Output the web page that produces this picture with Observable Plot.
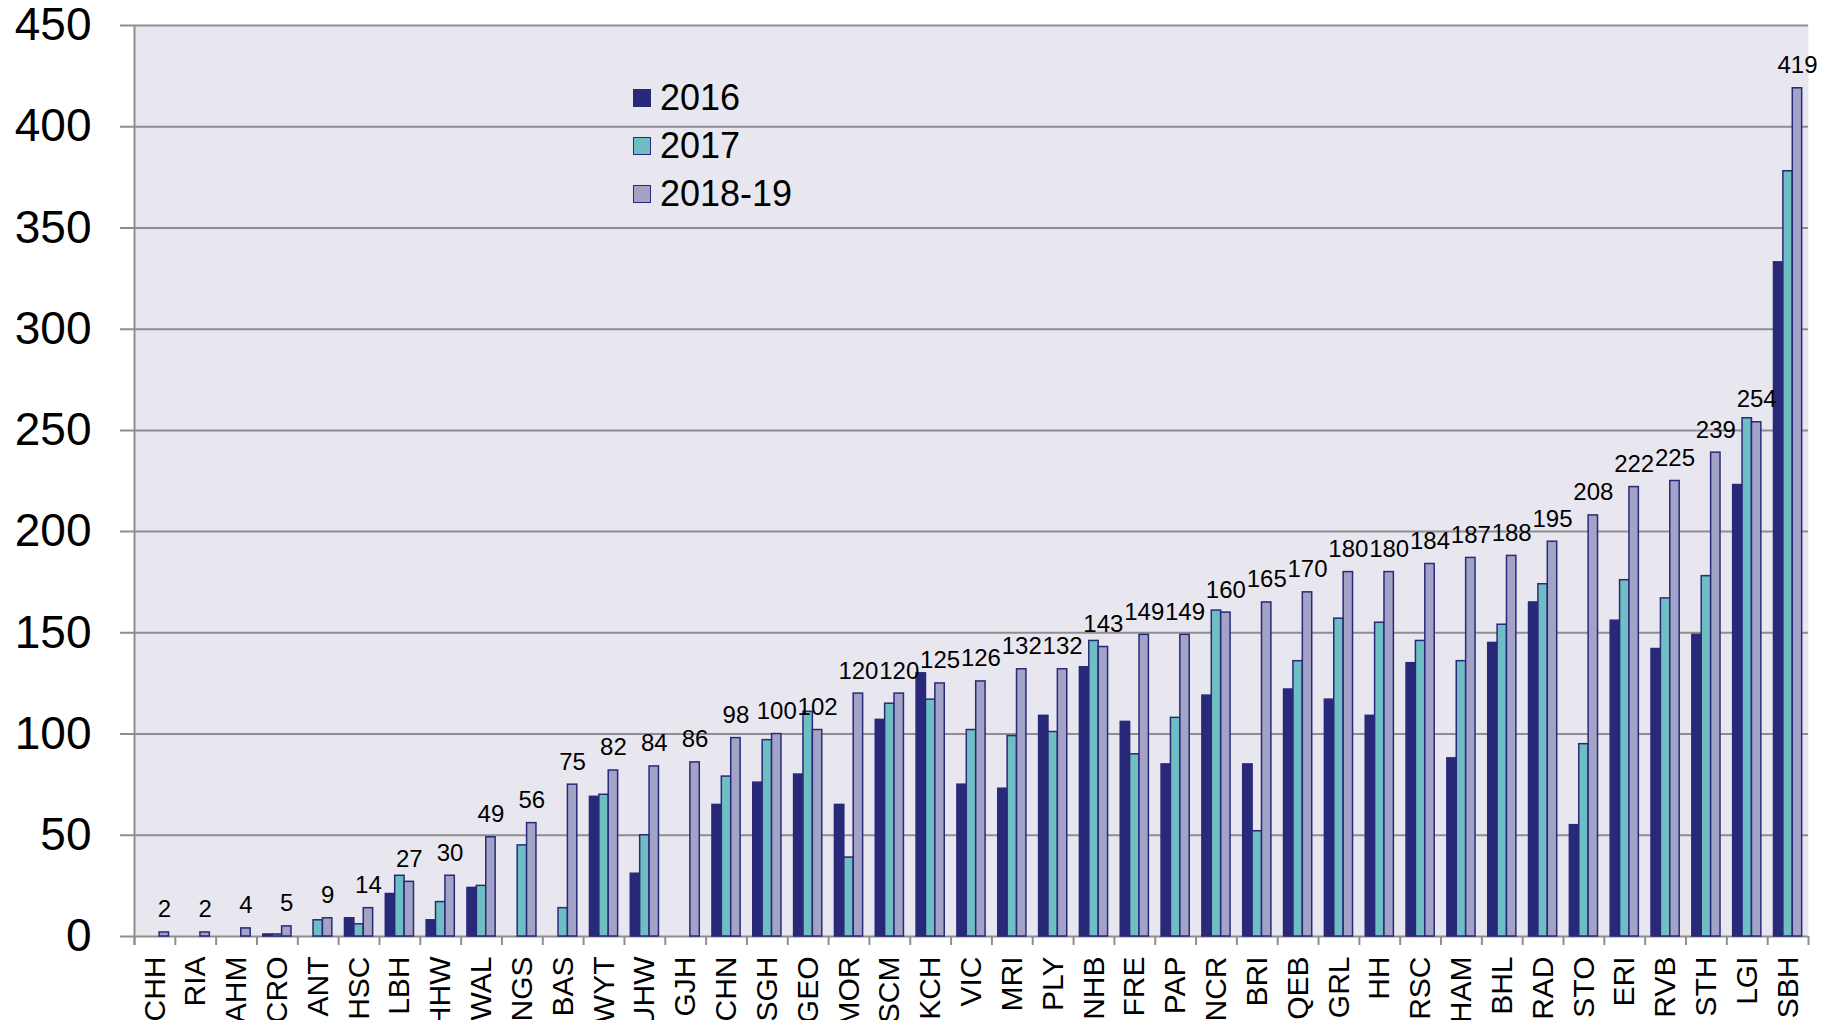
<!DOCTYPE html>
<html>
<head>
<meta charset="utf-8">
<script src="https://cdn.jsdelivr.net/npm/d3@7"></script>
<script src="https://cdn.jsdelivr.net/npm/@observablehq/plot@0.6"></script>
<style>
  body { margin: 0; background: #ffffff; font-family: "Liberation Sans", Arial, sans-serif; }
  #wrap { position: relative; width: 1835px; height: 1020px; overflow: hidden; }
  #legend { position: absolute; left: 633px; top: 74px; font-size: 36px; color: #000; }
  .item { display: flex; align-items: center; height: 48px; }
  .sw { width: 16px; height: 16px; border: 1.5px solid #2A2A7B; margin-right: 9px; }
</style>
</head>
<body>
<div id="wrap"><div id="legend"></div></div>
<script>
// ---- data ----
const categories = ["CHH","RIA","AHM","CRO","ANT","HSC","LBH","HHW","WAL","NGS","BAS","WYT","UHW","GJH","CHN","SGH","GEO","MOR","SCM","KCH","VIC","MRI","PLY","NHB","FRE","PAP","NCR","BRI","QEB","GRL","HH","RSC","HAM","BHL","RAD","STO","ERI","RVB","STH","LGI","SBH"];
const values2016 = [0,0,0,1,0,9,21,8,24,0,0,69,31,0,65,76,80,65,107,130,75,73,109,133,106,85,119,85,122,117,109,135,88,145,165,55,156,142,149,223,333];
const values2017 = [0,0,0,1,8,6,30,17,25,45,14,70,50,0,79,97,111,39,115,117,102,99,101,146,90,108,161,52,136,157,155,146,136,154,174,95,176,167,178,256,378];
const values2018 = [2,2,4,5,9,14,27,30,49,56,75,82,84,86,98,100,102,120,120,125,126,132,132,143,149,149,160,165,170,180,180,184,187,188,195,208,222,225,239,254,419];
const seriesNames = ["2016","2017","2018-19"];
const yTicks = [0,50,100,150,200,250,300,350,400,450];

// ---- styles ----
const navy = "#29297A", teal = "#6FBEC3", lav = "#A3A3C8";
const bg = "#E8E7EF", grid = "#8E8E8E";
const fills = [navy, teal, lav];

const W = 1835, H = 1020, ML = 134, MR = 27, MT = 25, MB = 84;
const step = (W - ML - MR) / categories.length;
const off = 0.155 * step, bw = 0.23 * step;

const rows = (vals) => categories.map((c, i) => ({cat: c, v: vals[i]})).filter(d => d.v > 0);
const seriesVals = [values2016, values2017, values2018];

const barMarks = seriesVals.map((vals, k) =>
  Plot.barY(rows(vals), {
    x: "cat", y: "v", fill: fills[k], stroke: navy, strokeWidth: 1.5,
    insetLeft: off + k * bw, insetRight: step - off - (k + 1) * bw
  })
);

const chart = Plot.plot({
  width: W, height: H,
  marginLeft: ML, marginRight: MR, marginTop: MT, marginBottom: MB,
  style: {fontFamily: "'Liberation Sans', Arial, sans-serif", color: "#000", background: "transparent"},
  x: {type: "band", domain: categories, padding: 0, label: null, round: false},
  y: {domain: [0, 450], label: null},
  marks: [
    Plot.frame({fill: bg, stroke: "none"}),
    Plot.gridY(yTicks, {stroke: grid, strokeOpacity: 1, strokeWidth: 2, insetLeft: -14}),
    Plot.ruleX(categories, {x: d => d, y1: 0, y2: 0, dx: -step / 2, insetBottom: -9, stroke: grid, strokeWidth: 2}),
    Plot.ruleX([categories[categories.length - 1]], {x: d => d, y1: 0, y2: 0, dx: step / 2, insetBottom: -9, stroke: grid, strokeWidth: 2}),
    Plot.ruleX([categories[0]], {x: d => d, y1: 450, y2: 0, dx: -step / 2, insetBottom: -9, stroke: grid, strokeWidth: 2}),
    ...barMarks,
    Plot.text(rows(values2018), {x: "cat", y: "v", text: d => String(d.v), dx: bw, dy: -15, lineAnchor: "bottom", fontSize: 24, fill: "#000"}),
    Plot.axisY(yTicks, {tickSize: 0, tickPadding: 43, fontSize: 46, fill: "#000"}),
    Plot.axisX({tickSize: 0, tickPadding: 20, tickRotate: -90, fontSize: 30, fill: "#000"})
  ]
});
document.getElementById("wrap").prepend(chart);

// legend
const legend = document.getElementById("legend");
seriesNames.forEach((name, k) => {
  const item = document.createElement("div");
  item.className = "item";
  const sw = document.createElement("span");
  sw.className = "sw";
  sw.style.background = fills[k];
  const t = document.createElement("span");
  t.textContent = name;
  item.append(sw, t);
  legend.append(item);
});
</script>
</body>
</html>
